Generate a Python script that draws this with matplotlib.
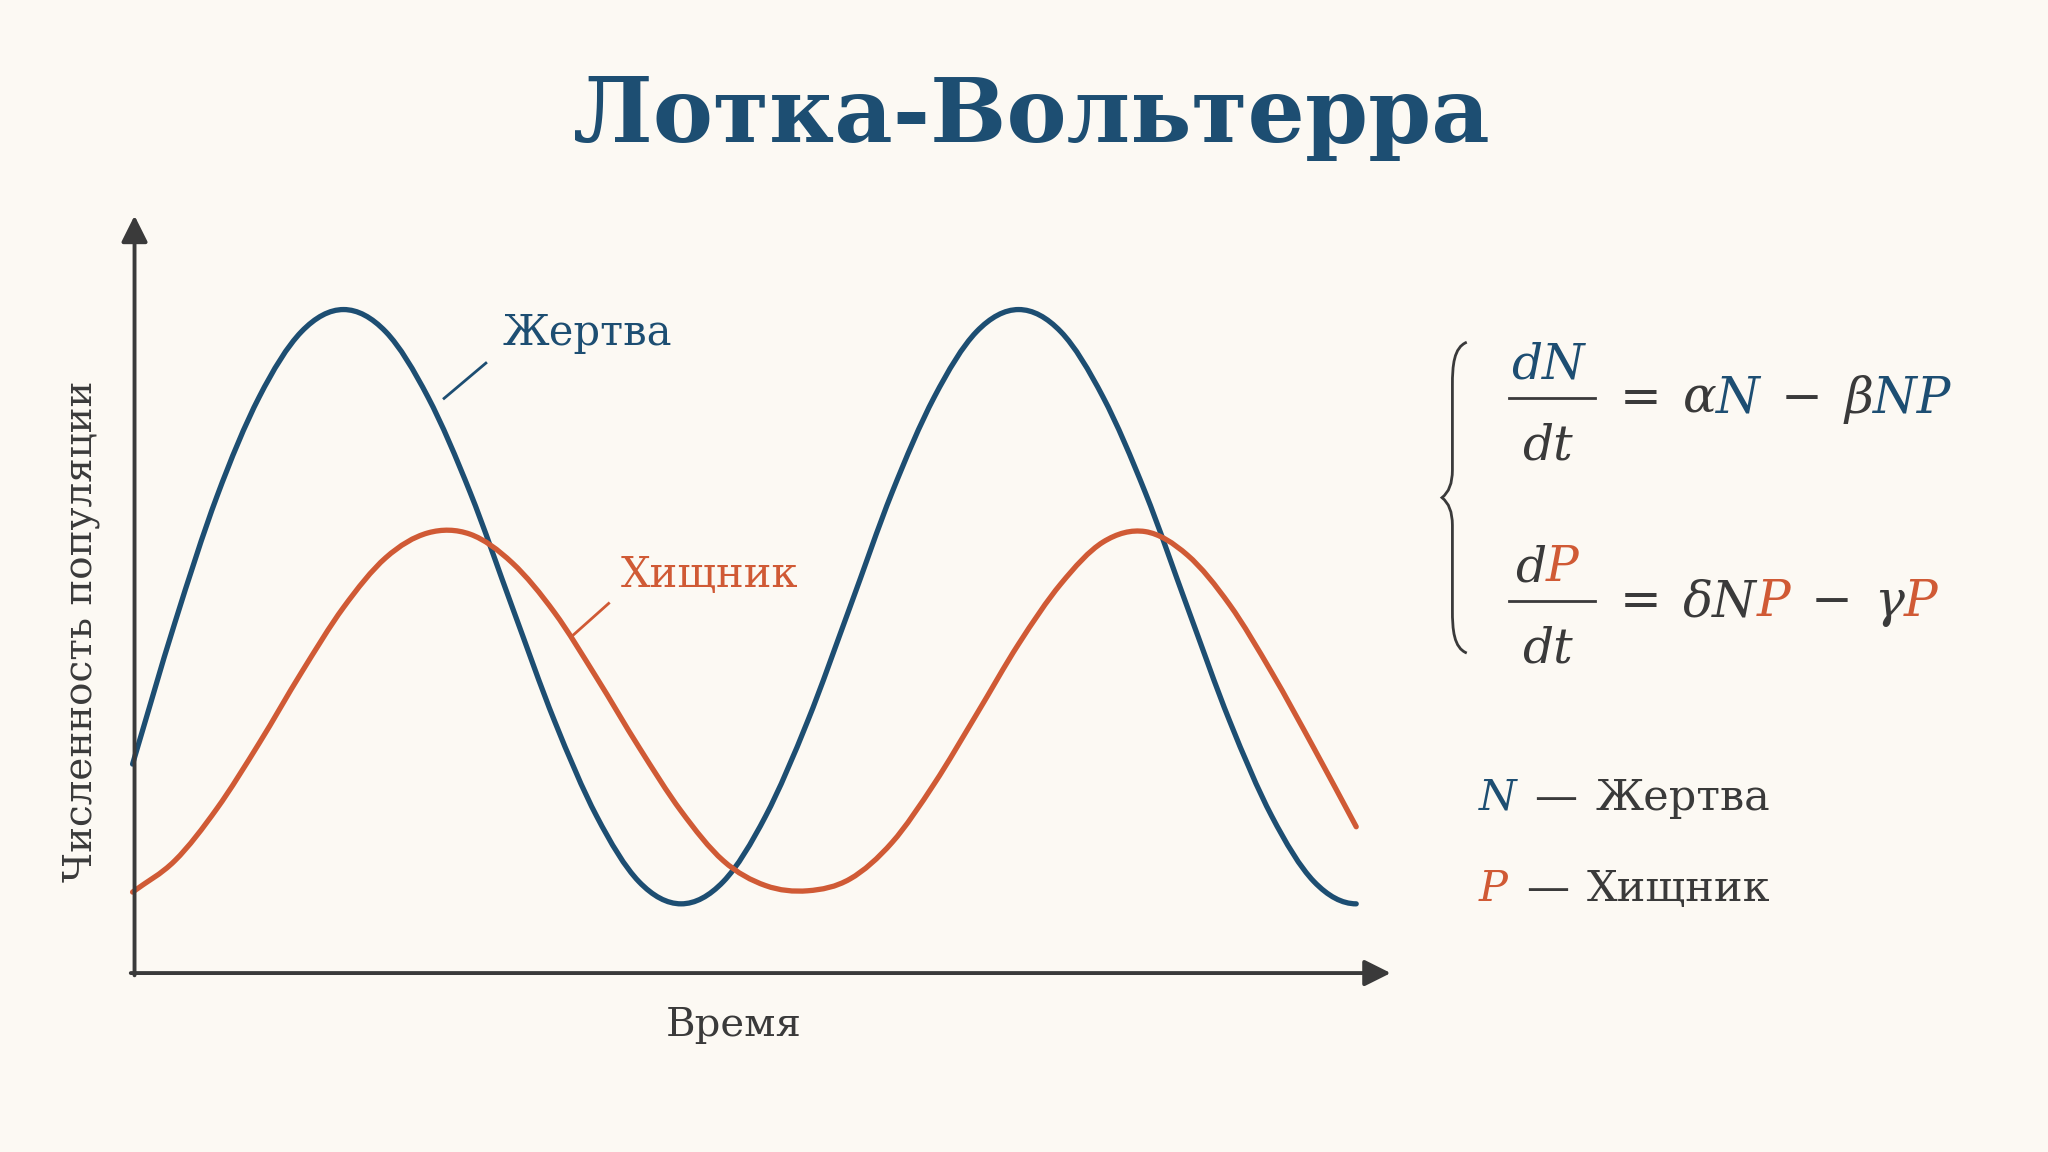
import matplotlib.pyplot as plt
from matplotlib.path import Path
from matplotlib.patches import PathPatch

navy = '#1d4e72'
orange = '#d05a35'
ink = '#3a3a3a'
bg = '#fcf9f3'
serif = 'DejaVu Serif'

# time steps and populations
t = list(range(30))
prey = [160, 268, 365, 441, 491, 508, 491, 441, 368, 280, 193, 120, 70, 53, 70,
        120, 193, 280, 368, 441, 491, 508, 491, 441, 368, 280, 193, 120, 70, 53]
pred = [62, 86, 126, 176, 230, 280, 318, 337, 336, 314, 276, 226, 173, 124, 86,
        67, 63, 72, 100, 145, 198, 252, 298, 330, 338, 320, 282, 230, 172, 112]


def smooth_path(xs, ys, flat_end=False):
    # Catmull-Rom through the read points, as cubic Bezier segments
    pts = list(zip(xs, ys))
    verts = [pts[0]]
    codes = [Path.MOVETO]
    n = len(pts)
    for i in range(n - 1):
        p0 = pts[i - 1] if i > 0 else (2 * pts[0][0] - pts[1][0], 2 * pts[0][1] - pts[1][1])
        p1 = pts[i]
        p2 = pts[i + 1]
        if i + 2 < n:
            p3 = pts[i + 2]
        elif flat_end:
            p3 = (2 * pts[-1][0] - pts[-2][0], pts[-2][1])
        else:
            p3 = (2 * pts[-1][0] - pts[-2][0], 2 * pts[-1][1] - pts[-2][1])
        c1 = (p1[0] + (p2[0] - p0[0]) / 6, p1[1] + (p2[1] - p0[1]) / 6)
        c2 = (p2[0] - (p3[0] - p1[0]) / 6, p2[1] - (p3[1] - p1[1]) / 6)
        verts += [c1, c2, p2]
        codes += [Path.CURVE4] * 3
    return Path(verts, codes)


fig = plt.figure(figsize=(20.48, 11.52), dpi=100, facecolor=bg)
ov = fig.add_axes([0, 0, 1, 1])
ov.set_xlim(0, 1568)
ov.set_ylim(882, 0)
ov.axis('off')
ov.patch.set_alpha(0)

ax = fig.add_axes([103/1568, 1-745/882, (1060-103)/1568, (745-168)/882])
ax.patch.set_alpha(0)
ax.set_xlim(0.046, 29.67)
ax.set_ylim(0, 577)
for s in ax.spines.values():
    s.set_visible(False)
ax.set_xticks([])
ax.set_yticks([])
ax.add_patch(PathPatch(smooth_path(t, prey, flat_end=True), fc='none', ec=navy, lw=3.8,
                       clip_on=False, capstyle='round'))
ax.add_patch(PathPatch(smooth_path(t, pred), fc='none', ec=orange, lw=3.8,
                       clip_on=False, capstyle='round'))
ap = dict(arrowstyle='-|>', lw=2.8, color=ink, mutation_scale=40, shrinkA=0, shrinkB=0)
ax.annotate('', xy=(1.005, 0), xytext=(-0.003, 0), xycoords='axes fraction', arrowprops=ap)
ax.annotate('', xy=(0, 1.005), xytext=(0, -0.003), xycoords='axes fraction', arrowprops=ap)

ov.text(790, 90, 'Лотка-Вольтерра', color=navy, fontsize=65, family=serif,
        weight='bold', ha='center', va='center')
ov.text(385, 255, 'Жертва', color=navy, fontsize=30, family=serif, va='center')
ov.plot([340, 372], [305, 278], color=navy, lw=2)
ov.text(475, 440, 'Хищник', color=orange, fontsize=30, family=serif, va='center')
ov.plot([438, 466], [487, 462], color=orange, lw=2)
ov.text(62, 483, 'Численность популяции', color=ink, fontsize=28, family=serif,
        rotation=90, ha='center', va='center')
ov.text(562, 785, 'Время', color=ink, fontsize=29, family=serif, ha='center', va='center')

# brace
verts = [(1123, 262), (1113, 266), (1112, 280), (1112, 295),
         (1112, 360), (1112, 375), (1104, 381),
         (1112, 387), (1112, 402), (1112, 467),
         (1112, 482), (1113, 496), (1123, 500)]
codes = [Path.MOVETO, Path.CURVE4, Path.CURVE4, Path.CURVE4,
         Path.LINETO, Path.CURVE3, Path.CURVE3,
         Path.CURVE3, Path.CURVE3, Path.LINETO,
         Path.CURVE4, Path.CURVE4, Path.CURVE4]
ov.add_patch(PathPatch(Path(verts, codes), fc='none', ec=ink, lw=2))

renderer = fig.canvas.get_renderer()


def pieces(x, y, parts, size):
    for s, c, st in parts:
        if s == ' ':
            x += size * 0.45
            continue
        tx = ov.text(x, y, s, color=c, fontsize=size, family=serif, style=st,
                     va='baseline')
        bb = tx.get_window_extent(renderer)
        x = ov.transData.inverted().transform((bb.x1, bb.y0))[0]
    return x


fs = 35
# equation 1
pieces(1157, 290, [('d', navy, 'italic'), ('N', navy, 'italic')], fs)
ov.plot([1155, 1221], [305, 305], color=ink, lw=2)
pieces(1165, 352, [('dt', ink, 'italic')], fs)
pieces(1240, 316, [('=', ink, 'normal'), (' ', 0, 0), ('α', ink, 'italic'),
                   ('N', navy, 'italic'), (' ', 0, 0), ('−', ink, 'normal'), (' ', 0, 0),
                   ('β', ink, 'italic'), ('NP', navy, 'italic')], 36)
# equation 2
pieces(1160, 445, [('d', ink, 'italic'), ('P', orange, 'italic')], fs)
ov.plot([1155, 1221], [460, 460], color=ink, lw=2)
pieces(1165, 507, [('dt', ink, 'italic')], fs)
pieces(1240, 472, [('=', ink, 'normal'), (' ', 0, 0), ('δN', ink, 'italic'),
                   ('P', orange, 'italic'), (' ', 0, 0), ('−', ink, 'normal'), (' ', 0, 0),
                   ('γ', ink, 'italic'), ('P', orange, 'italic')], 36)

# legend
pieces(1132, 620, [('N', navy, 'italic'), (' ', 0, 0), ('—', ink, 'normal'), (' ', 0, 0),
                   ('Жертва', ink, 'normal')], 31)
pieces(1132, 690, [('P', orange, 'italic'), (' ', 0, 0), ('—', ink, 'normal'), (' ', 0, 0),
                   ('Хищник', ink, 'normal')], 31)

fig.savefig('out.png', facecolor=bg)
